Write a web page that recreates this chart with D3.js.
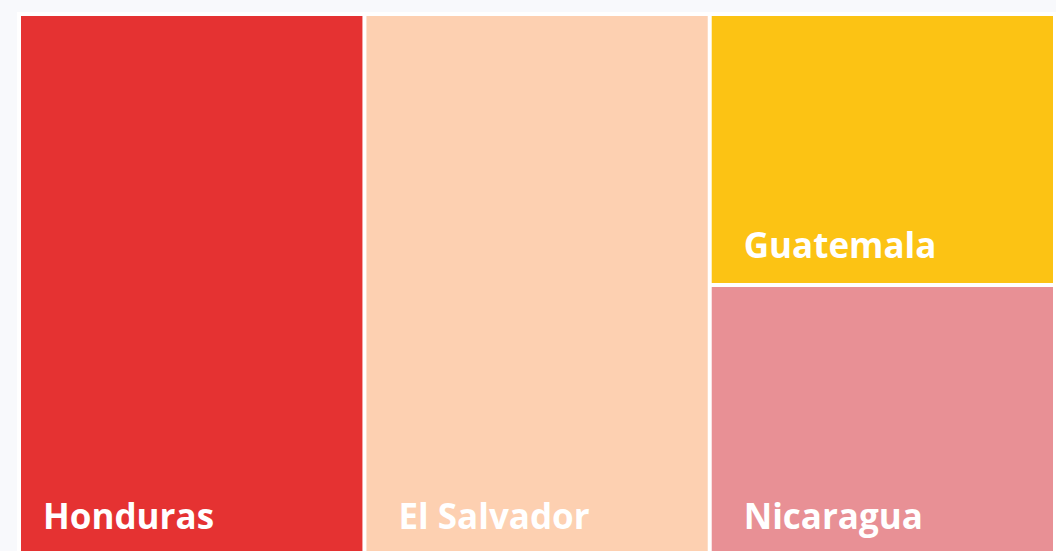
<!DOCTYPE html>
<html><head><meta charset="utf-8">
<script src="https://cdn.jsdelivr.net/npm/d3@7"></script>
<style>
html,body{margin:0;padding:0;background:#f8f9fc;overflow:hidden}
svg{display:block}
</style></head>
<body>
<svg id="chart" width="1056" height="551"></svg>
<script>
const countries = ["Honduras", "El Salvador", "Guatemala", "Nicaragua"];
const values = [35, 34, 17, 17];
const groups = [0, 1, 2, 2];
const colors = ["#e53232", "#fdd0b1", "#fcc314", "#e89095"];

const W = 1056, H = 551;
const svg = d3.select("#chart");
svg.append("rect").attr("x", 0).attr("y", 0).attr("width", W).attr("height", H).attr("fill", "#f8f9fc");
svg.append("rect").attr("x", 17).attr("y", 12).attr("width", W - 17).attr("height", H - 12).attr("fill", "#ffffff");

const groupIds = Array.from(new Set(groups));
const data = {
  name: "root",
  children: groupIds.map(g => ({
    name: "g" + g,
    children: countries.map((c, i) => ({name: c, value: values[i], color: colors[i], g: groups[i]})).filter(d => d.g === g)
  }))
};

const root = d3.hierarchy(data).sum(d => d.value || 0);
d3.treemap()
  .tile(d3.treemapSliceDice)
  .size([1042, 538])
  .paddingInner(4)
  .round(false)(root);

const defs = svg.append("defs");
defs.append("clipPath").attr("id", "clip")
  .append("rect").attr("x", 21).attr("y", 0).attr("width", W - 21).attr("height", H);

const g = svg.append("g").attr("clip-path", "url(#clip)")
  .append("g").attr("transform", "translate(11,16)");

const leaves = root.leaves();
const cell = g.selectAll("g.cell").data(leaves).join("g").attr("class", "cell");
cell.append("rect")
  .attr("x", d => d.x0).attr("y", d => d.y0)
  .attr("width", d => d.x1 - d.x0).attr("height", d => d.y1 - d.y0)
  .attr("fill", d => d.data.color);
cell.append("text")
  .attr("x", d => d.x0 + 32)
  .attr("y", d => d.y1 - 25)
  .attr("fill", "#ffffff")
  .attr("font-family", "'Open Sans', sans-serif")
  .attr("font-weight", 700)
  .attr("font-size", 35)
  .text(d => d.data.name);
</script>
</body></html>
